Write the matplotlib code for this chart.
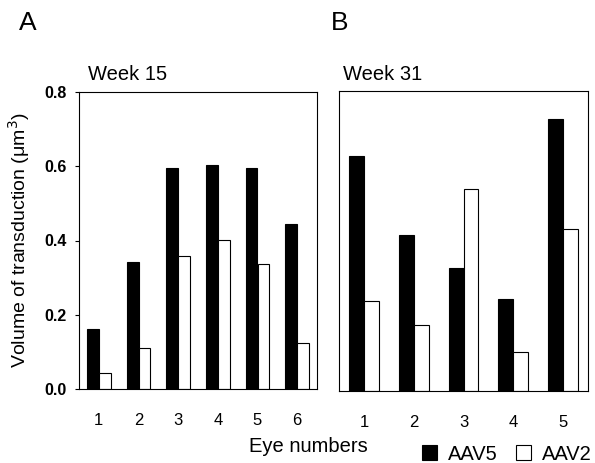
import numpy as np
import matplotlib.pyplot as plt
from matplotlib.patches import Patch

plt.rcParams['font.family'] = ['Liberation Sans', 'DejaVu Sans']

# Week 15 (panel A)
ojos_a = ['1', '2', '3', '4', '5', '6']
aav5_a = [0.162, 0.341, 0.595, 0.604, 0.595, 0.444]
aav2_a = [0.044, 0.110, 0.357, 0.402, 0.338, 0.125]

# Week 31 (panel B)
ojos_b = ['1', '2', '3', '4', '5']
aav5_b = [0.627, 0.416, 0.329, 0.245, 0.725]
aav2_b = [0.240, 0.176, 0.539, 0.103, 0.431]

fig = plt.figure(figsize=(5.95, 4.63), dpi=100)
axA = fig.add_axes([79/595, 1-389/463, 238/595, 297/463])
axB = fig.add_axes([339/595, 1-391/463, 249/595, 300/463])

ancho = 0.3
for ax, ojos, negro, blanco in [(axA, ojos_a, aav5_a, aav2_a), (axB, ojos_b, aav5_b, aav2_b)]:
    x = np.arange(len(ojos)) + 0.5
    ax.bar(x - ancho/2, negro, ancho, color='black', edgecolor='black', lw=0.8)
    ax.bar(x + ancho/2, blanco, ancho, color='white', edgecolor='black', lw=0.8)
    ax.set_xlim(0, len(ojos))
    ax.set_ylim(0, 0.8)
    ax.set_xticks(x)
    ax.set_xticklabels(ojos, fontsize=12)
    ax.tick_params(axis='x', length=0, pad=17)
    for s in ax.spines.values():
        s.set_linewidth(0.8)

axA.set_yticks([0.0, 0.2, 0.4, 0.6, 0.8])
axA.set_yticklabels(['0.0', '0.2', '0.4', '0.6', '0.8'], fontsize=11.5, fontweight='bold')
axA.tick_params(axis='y', length=3, width=0.8, pad=6)
axA.set_ylabel('Volume of transduction (\u03bcm$^3$)', fontsize=14, labelpad=9)
axB.set_yticks([])

fig.text(88/595, 1-80/463, 'Week 15', fontsize=14.5, va='baseline')
fig.text(343/595, 1-80/463, 'Week 31', fontsize=14.5, va='baseline')

fig.text(19/595, 1-23/463, 'A', fontsize=19, va='center')
fig.text(331/595, 1-23/463, 'B', fontsize=19, va='center')
fig.text(308/595, 1-447/463, 'Eye numbers', fontsize=14.5, ha='center', va='center')

manijas = [Patch(facecolor='black', edgecolor='black', lw=0.8),
           Patch(facecolor='white', edgecolor='black', lw=0.8)]
fig.legend(manijas, ['AAV5', 'AAV2'], loc='center right', bbox_to_anchor=(1.008, 1-454/463),
           ncol=2, frameon=False, fontsize=14.5, handlelength=0.75, handleheight=0.75,
           handletextpad=0.55, columnspacing=0.9, borderaxespad=0.0)

fig.savefig('out.png', dpi=100)
